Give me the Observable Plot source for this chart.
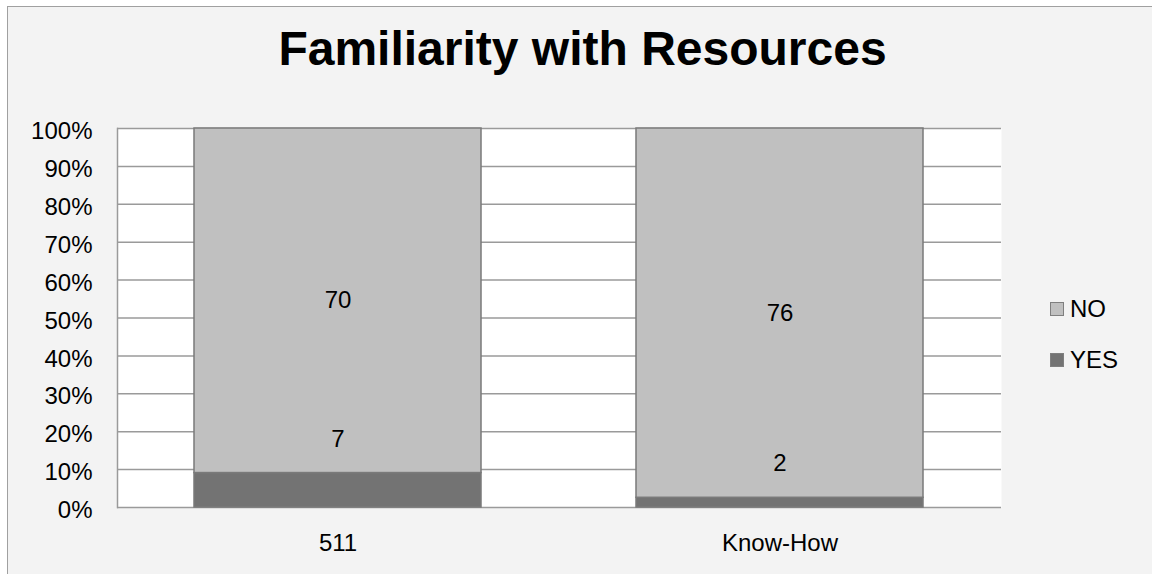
<!DOCTYPE html>
<html>
<head>
<meta charset="utf-8">
<script src="https://cdn.jsdelivr.net/npm/d3@7"></script>
<script src="https://cdn.jsdelivr.net/npm/@observablehq/plot@0.6"></script>
<style>
  body { margin: 0; background: #fff; font-family: "Liberation Sans", Arial, sans-serif; }
  #chart { position: relative; width: 1152px; height: 574px; overflow: hidden; }
  #panel { position: absolute; left: 7px; top: 6px; width: 1170px; height: 590px; box-sizing: border-box;
           border: 1.5px solid #a0a0a0; background: #f3f3f3; }
  #title { position: absolute; left: 7px; top: 25px; width: 1151px; text-align: center;
           font: bold 48px "Liberation Sans", Arial, sans-serif; line-height: 1; color: #000; }
  #plot { position: absolute; left: 0; top: 100px; }
  #legend { position: absolute; left: 1050px; top: 296px; font-size: 24px; color: #000; }
  #legend .item { display: flex; align-items: center; height: 25px; margin-bottom: 26px; }
  #legend .sw { width: 12px; height: 12px; border: 1px solid #7f7f7f; margin-right: 6px; }
</style>
</head>
<body>
<div id="chart">
  <div id="panel"></div>
  <div id="title">Familiarity with Resources</div>
  <div id="plot"></div>
  <div id="legend"></div>
</div>
<script>
// Survey counts per resource
const categories = ["511", "Know-How"];
const responses = ["NO", "YES"];
const yesCounts = [7, 2];
const noCounts = [70, 76];
const colors = ["#c0c0c0", "#737373"];
const yTicks = [0, 0.1, 0.2, 0.3, 0.4, 0.5, 0.6, 0.7, 0.8, 0.9, 1];

const rows = categories.flatMap((cat, i) => [
  {cat, resp: "YES", n: yesCounts[i]},
  {cat, resp: "NO", n: noCounts[i]}
]);

const stackOpts = {x: "cat", y: "n", z: "resp", order: ["YES", "NO"], offset: "normalize"};

const chart = Plot.plot({
  width: 1152,
  height: 474,
  marginTop: 28,
  marginBottom: 67,
  marginLeft: 117,
  marginRight: 151,
  style: {background: "transparent", fontFamily: "'Liberation Sans', Arial, sans-serif", color: "#000"},
  x: {domain: categories, paddingInner: 0.35, paddingOuter: 0.175, label: null},
  y: {domain: [0, 1], label: null},
  color: {domain: responses, range: colors},
  marks: [
    Plot.frame({fill: "white", stroke: null}),
    Plot.gridY(yTicks, {stroke: "#9a9a9a", strokeOpacity: 1, strokeWidth: 1.5}),
    Plot.frame({anchor: "left", stroke: "#9a9a9a", strokeWidth: 1.5}),
    Plot.axisY(yTicks, {tickSize: 0, tickPadding: 25, fontSize: 24, dy: 3,
      tickFormat: d => `${Math.round(d * 100)}%`, label: null}),
    Plot.axisX({tickSize: 0, tickPadding: 26, fontSize: 24, label: null}),
    Plot.barY(rows, Plot.stackY({...stackOpts, fill: "resp", stroke: "#7a7a7a", strokeWidth: 1.5})),
    // NO counts sit in the middle of their segment
    Plot.text(rows, Plot.stackY({...stackOpts, text: d => d.resp === "NO" ? String(d.n) : null,
      fontSize: 24, fill: "#000"})),
    // YES counts sit just above the top of the small dark segment
    Plot.text(rows, Plot.stackY2({...stackOpts, text: d => d.resp === "YES" ? String(d.n) : null,
      fontSize: 24, fill: "#000", dy: -34}))
  ]
});
document.getElementById("plot").append(chart);

// Legend, NO listed above YES
const legend = document.getElementById("legend");
responses.forEach((r, i) => {
  const item = document.createElement("div");
  item.className = "item";
  const sw = document.createElement("span");
  sw.className = "sw";
  sw.style.background = colors[i];
  const label = document.createElement("span");
  label.textContent = r;
  item.append(sw, label);
  legend.append(item);
});
</script>
</body>
</html>
